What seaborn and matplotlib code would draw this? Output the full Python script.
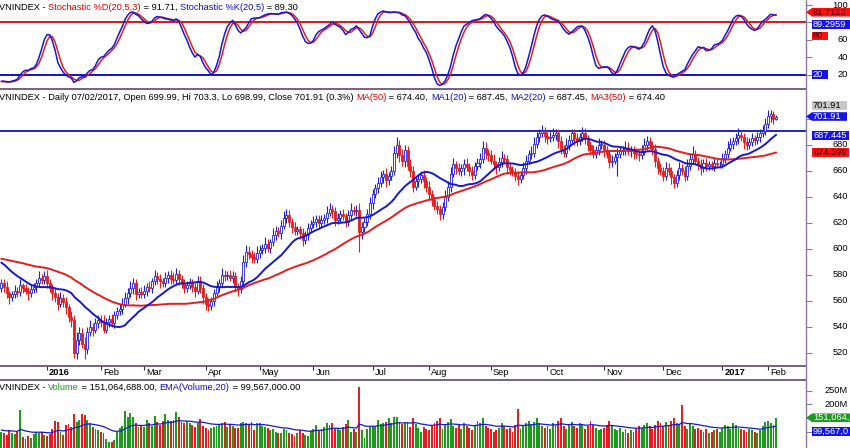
import numpy as np
import pandas as pd
import matplotlib
matplotlib.use("Agg")
import matplotlib.pyplot as plt
from matplotlib.patches import Polygon
from matplotlib.lines import Line2D
from matplotlib.transforms import blended_transform_factory
import seaborn as sns

sns.set_theme(style="white")
plt.rcParams['font.family'] = ['Liberation Sans', 'DejaVu Sans']

# ---------------- data ----------------
holidays = ['2016-01-01', '2016-02-08', '2016-02-09', '2016-02-10', '2016-02-11',
            '2016-02-12', '2016-04-18', '2016-05-02', '2016-05-03', '2016-09-02',
            '2017-01-02', '2017-01-26', '2017-01-27', '2017-01-30', '2017-01-31',
            '2017-02-01']
month_labels = ['2016', 'Feb', 'Mar', 'Apr', 'May', 'Jun', 'Jul', 'Aug', 'Sep',
                'Oct', 'Nov', 'Dec', '2017', 'Feb']

# bars before the visible window (they only feed the MA / stochastic / EMA)
warm_close = [582, 584, 586, 585, 588, 590, 589, 592, 594, 593,
              595, 597, 596, 594, 592, 590, 593, 595, 598, 600,
              599, 597, 595, 596, 598, 600, 601, 599, 597, 596,
              598, 601, 603, 604, 602, 600, 599, 598, 597, 596,
              594, 591, 588, 586, 583, 580, 578, 575, 572, 570]
warm_up = [4, 3, 4, 4, 3, 4, 5, 3, 4, 4, 3, 4, 4, 3, 4, 4, 3, 4, 5, 4,
           4, 3, 4, 4, 3, 4, 5, 4, 3, 4, 4, 3, 4, 5, 4, 3, 4, 4, 3, 4,
           4, 4, 3, 4, 4, 5, 3, 4, 4, 3]
warm_dn = [3, 4, 4, 3, 4, 5, 3, 4, 4, 3, 4, 3, 4, 4, 5, 3, 4, 3, 4, 4,
           3, 4, 4, 5, 3, 4, 3, 4, 4, 3, 4, 3, 4, 4, 3, 4, 5, 4, 3, 4,
           4, 5, 4, 4, 5, 4, 4, 5, 4, 4]
warm_vol = [110, 95, 102, 120, 98, 105, 115, 108, 96, 100,
            112, 118, 104, 99, 107, 113, 101, 97, 109, 104]

# daily closes, Dec 2015 .. Feb 2017 (one line per month)
closes = [
    574, 571, 566, 563, 565, 568, 567, 572, 570, 568, 566, 569, 571, 574, 578, 576, 579,
    574, 570, 566, 563, 558, 562, 559, 555, 548, 545, 520, 530, 535, 527, 523, 536, 540, 538, 543, 545,
    544, 538, 544, 546, 543, 549, 552, 554, 558, 562, 566, 570, 574, 565, 567, 565,
    568, 571, 570, 575, 579, 577, 575, 574, 578, 580, 577, 576, 581, 577, 573, 570, 572, 574, 571, 568, 575, 570, 563,
    558, 556, 560, 566, 571, 574, 580, 579, 580, 578, 579, 571, 569, 575, 590, 598, 596, 594, 592, 597,
    599, 601, 604, 601, 605, 611, 614, 612, 618, 624, 626, 621, 617, 614, 615, 612, 607, 611, 616, 619,
    621, 623, 620, 622, 624, 628, 631, 629, 622, 624, 627, 625, 621, 626, 630, 629, 630, 613, 617, 621, 627, 635,
    642, 647, 651, 655, 658, 653, 656, 660, 674, 680, 672, 668, 676, 664, 660, 648, 652, 654, 657, 652, 648,
    642, 638, 633, 631, 627, 632, 640, 648, 658, 665, 662, 660, 662, 665, 663, 660, 657, 664, 666, 669, 678, 674, 672,
    668, 665, 663, 667, 670, 669, 663, 661, 659, 656, 654, 657, 662, 668, 673, 674, 681, 686, 689, 691, 687,
    685, 686, 688, 689, 683, 677, 674, 680, 684, 689, 685, 683, 686, 689, 685, 680, 676, 673, 676, 680, 680,
    676, 673, 667, 668, 671, 673, 675, 676, 678, 675, 676, 674, 673, 672, 675, 680, 683, 680, 677, 668, 662, 660,
    656, 662, 660, 655, 651, 657, 662, 660, 656, 664, 669, 673, 668, 665, 662, 666, 664, 665, 664, 666, 665, 665,
    670, 673, 678, 681, 683, 685, 688, 686, 682, 680, 682, 685, 684, 686, 689, 691, 696,
    702, 704, 700, 701.91,
]
# upper / lower shadow length above / below the candle body
wick_up = [
    3, 3, 4, 2, 3, 4, 3, 5, 2, 3, 3, 4, 3, 3, 5, 3, 4,
    5, 3, 3, 4, 3, 5, 3, 4, 3, 4, 4, 6, 5, 4, 5, 4, 5, 3, 4, 4,
    4, 5, 3, 3, 4, 3, 3, 4, 4, 5, 4, 5, 4, 3, 3, 4,
    4, 3, 4, 3, 5, 3, 4, 3, 4, 3, 4, 5, 4, 3, 3, 4, 3, 4, 3, 3, 4, 4, 3,
    3, 4, 3, 3, 4, 3, 5, 4, 3, 4, 4, 3, 3, 4, 5, 5, 4, 3, 4, 5,
    4, 3, 5, 4, 3, 5, 4, 3, 4, 5, 5, 4, 3, 4, 3, 3, 4, 3, 4, 3,
    4, 3, 3, 4, 3, 5, 4, 3, 3, 4, 3, 4, 3, 4, 5, 3, 4, 5, 4, 3, 4, 5,
    4, 3, 4, 5, 3, 4, 3, 4, 5, 6, 4, 5, 4, 3, 5, 4, 3, 4, 3, 4, 3,
    4, 3, 3, 4, 3, 4, 5, 4, 5, 5, 3, 4, 3, 4, 5, 3, 4, 3, 4, 5, 5, 4, 3,
    4, 5, 3, 4, 5, 3, 3, 4, 3, 3, 4, 3, 5, 4, 3, 5, 5, 4, 3, 4, 3,
    3, 4, 5, 3, 3, 4, 3, 5, 4, 3, 3, 4, 3, 5, 4, 3, 3, 4, 3, 5, 4,
    4, 3, 3, 4, 3, 5, 4, 3, 5, 4, 3, 3, 4, 3, 5, 5, 4, 3, 3, 4, 3, 4,
    3, 5, 4, 3, 3, 4, 5, 3, 4, 5, 4, 6, 3, 3, 4, 3, 4, 3, 3, 4, 3, 3,
    4, 3, 5, 4, 3, 4, 5, 3, 3, 4, 3, 4, 3, 4, 3, 4, 5,
    5, 3, 2, 1.39,
]
wick_dn = [
    3, 4, 4, 5, 3, 3, 4, 3, 4, 3, 5, 3, 3, 4, 3, 3, 3,
    4, 3, 5, 4, 5, 3, 4, 5, 4, 5, 4, 5, 4, 3, 8, 4, 3, 5, 3, 4,
    4, 3, 3, 4, 3, 4, 3, 3, 4, 3, 4, 3, 5, 4, 3, 3,
    3, 4, 3, 4, 3, 4, 5, 3, 3, 4, 4, 3, 4, 5, 3, 4, 3, 3, 4, 5, 3, 4, 5,
    5, 4, 3, 4, 3, 4, 3, 4, 3, 3, 4, 4, 5, 3, 3, 4, 4, 5, 3, 3,
    4, 3, 4, 3, 4, 3, 4, 3, 4, 3, 4, 4, 5, 3, 3, 4, 5, 3, 4, 3,
    3, 4, 4, 3, 3, 4, 3, 5, 4, 3, 4, 3, 4, 3, 4, 3, 4, 15, 5, 4, 3, 4,
    4, 3, 4, 3, 4, 5, 4, 3, 3, 4, 5, 4, 5, 3, 5, 4, 3, 4, 3, 5, 4,
    4, 5, 3, 4, 5, 4, 3, 3, 4, 3, 4, 3, 4, 5, 3, 4, 4, 3, 3, 4, 3, 5, 4,
    3, 4, 5, 3, 4, 3, 5, 4, 3, 4, 5, 3, 3, 4, 3, 4, 3, 3, 4, 3, 5,
    4, 3, 3, 4, 5, 4, 3, 3, 4, 3, 5, 4, 3, 3, 4, 5, 4, 3, 3, 4, 3,
    5, 3, 5, 4, 3, 15, 3, 3, 4, 3, 4, 5, 3, 4, 3, 3, 4, 3, 5, 5, 4, 3,
    4, 3, 3, 5, 4, 3, 4, 3, 4, 3, 3, 4, 3, 4, 5, 3, 4, 3, 3, 4, 3, 3,
    3, 4, 3, 3, 4, 3, 4, 3, 5, 4, 3, 3, 4, 3, 4, 3, 3,
    3, 4, 4, 1.01,
]
# daily volume, millions of shares
volumes = [
    100, 94, 88, 106, 95, 90, 98, 179, 80, 72, 85, 78, 90, 100, 95, 100, 88,
    84, 92, 110, 140, 137, 100, 88, 125, 128, 118, 166, 136, 143, 165, 160, 143, 130, 118, 110, 106,
    100, 94, 72, 63, 62, 69, 100, 112, 120, 175, 155, 167, 152, 130, 118, 122,
    118, 143, 130, 120, 157, 135, 125, 140, 165, 143, 138, 143, 172, 155, 137, 130, 140, 132, 125, 118, 130, 145, 122,
    115, 106, 112, 118, 120, 125, 133, 137, 118, 125, 122, 115, 112, 133, 137, 130, 128, 137, 106, 133,
    130, 120, 118, 112, 106, 108, 100, 96, 94, 110, 106, 96, 90, 84, 94, 106, 94, 88, 84, 104,
    108, 125, 106, 110, 118, 130, 125, 133, 115, 110, 106, 118, 128, 143, 100, 108, 100, 264, 106, 78, 110, 118,
    122, 118, 143, 128, 130, 137, 150, 130, 155, 152, 137, 128, 133, 137, 118, 150, 128, 115, 100, 118, 110,
    105, 120, 130, 140, 150, 110, 125, 135, 145, 120, 115, 125, 110, 130, 120, 115, 105, 125, 140, 130, 150, 120, 115,
    110, 100, 105, 115, 130, 120, 110, 115, 100, 125, 185, 110, 120, 130, 140, 125, 135, 150, 130, 120, 115,
    120, 110, 130, 125, 140, 150, 120, 110, 125, 135, 120, 115, 130, 125, 110, 120, 140, 125, 115, 105, 110,
    115, 125, 140, 120, 110, 105, 115, 100, 110, 95, 105, 100, 110, 120, 115, 125, 130, 120, 110, 125, 140, 130,
    120, 135, 125, 140, 150, 130, 125, 198, 120, 110, 130, 120, 110, 115, 105, 100, 110, 95, 100, 105, 110, 100,
    115, 125, 120, 110, 130, 125, 115, 110, 105, 100, 110, 105, 100, 95, 105, 120, 135,
    140, 130, 125, 151.064688,
]
level_line = 690.8    # horizontal line drawn on the price pane

# ---------------- indicators ----------------
dates = pd.bdate_range('2015-12-09', '2017-02-07')
dates = dates[~dates.isin(pd.to_datetime(holidays))]
n = len(closes)
nw = len(warm_close)

c_all = pd.Series(warm_close + closes, dtype=float)
o_all = c_all.shift(1).fillna(c_all.iloc[0])
h_all = np.maximum(o_all, c_all) + np.array(warm_up + wick_up)
l_all = np.minimum(o_all, c_all) - np.array(warm_dn + wick_dn)

ma50 = c_all.rolling(50).mean().iloc[nw:].to_numpy()
ma20 = c_all.rolling(20).mean().iloc[nw:].to_numpy()
hh = h_all.rolling(20).max()
ll = l_all.rolling(20).min()
stoch_k = 100 * (c_all - ll).rolling(5).mean() / (hh - ll).rolling(5).mean()
stoch_d = stoch_k.rolling(3).mean()
stoch_k = stoch_k.iloc[nw:].to_numpy()
stoch_d = stoch_d.iloc[nw:].to_numpy()

vol_all = pd.Series(warm_vol + volumes, dtype=float) * 1e6
vol_ema = vol_all.ewm(span=20, adjust=False).mean().iloc[len(warm_vol):].to_numpy()
vol = vol_all.iloc[len(warm_vol):].to_numpy()

o = o_all.iloc[nw:].to_numpy()
c = c_all.iloc[nw:].to_numpy()
hi = h_all.iloc[nw:].to_numpy()
lo = l_all.iloc[nw:].to_numpy()
idx = np.arange(n)
up = c >= o

month_start = [i for i in range(1, n) if dates[i].month != dates[i - 1].month]

# ---------------- layout ----------------
W, H = 850, 448
RX = 806
RED = '#e41e1e'
BLUE = '#1818d0'
GREEN = '#1f9a1f'
FRAME = '#4b3a5c'
AXIS = '#8a7aa0'
FS = 6.7

fig = plt.figure(figsize=(W / 100, H / 100), dpi=100)
fig.patch.set_facecolor('white')


def px_axes(x0, y0, x1, y1):
    return fig.add_axes([x0 / W, 1 - y1 / H, (x1 - x0) / W, (y1 - y0) / H])


ax_st = px_axes(0, 0, RX, 89)
ax_pr = px_axes(0, 90, RX, 366)
ax_vo = px_axes(0, 380, RX, 448)

for ax in (ax_st, ax_pr, ax_vo):
    ax.set_xlim(-0.48, 299.1)
    ax.set_facecolor('white')
    for s in ax.spines.values():
        s.set_visible(False)
    ax.tick_params(axis='y', left=False, right=True, labelleft=False, labelright=False,
                   length=4, width=0.8, color=AXIS, direction='out')
    ax.tick_params(axis='x', bottom=False, labelbottom=False)
    ax.grid(False)

# ---- stochastic pane ----
ax_st.set_ylim(3.5, 105.8)
ax_st.axhline(80, color='#e00000', lw=1.3)
ax_st.axhline(20, color='#0000c0', lw=1.3)
sns.lineplot(x=idx, y=stoch_d, ax=ax_st, color=RED, lw=1.1)
sns.lineplot(x=idx, y=stoch_k, ax=ax_st, color=BLUE, lw=1.1)
ax_st.set_yticks([20, 40, 60, 80, 100])

# ---- price pane ----
ax_pr.set_ylim(510, 722.3)
ax_pr.axhline(level_line, color='#1010c0', lw=1.3)
body_h = np.where(np.abs(c - o) < 0.4, 0.4, np.abs(c - o))
ax_pr.vlines(idx, lo, hi, colors=np.where(up, '#2020e0', RED), lw=0.8, zorder=2)
ax_pr.bar(idx, body_h, bottom=np.minimum(o, c), width=0.75,
          color=np.where(up, 'white', RED), edgecolor=np.where(up, '#2020e0', RED),
          linewidth=0.6, zorder=3)
sns.lineplot(x=idx, y=ma50, ax=ax_pr, color=RED, lw=1.4, zorder=4)
sns.lineplot(x=idx, y=ma20, ax=ax_pr, color=BLUE, lw=1.4, zorder=4)
ax_pr.set_yticks(range(520, 701, 20))
ax_pr.set_xticks(month_start)
ax_pr.tick_params(axis='x', bottom=True, length=3, width=0.8, color='#333333', direction='out')
for i, lab in zip(month_start, month_labels):
    ax_pr.annotate(lab, xy=(i, 0), xycoords=('data', 'axes fraction'), xytext=(2, -6.5),
                   textcoords='offset pixels', ha='left', va='center', fontsize=FS,
                   fontweight='bold' if lab.isdigit() else 'normal', color='black',
                   annotation_clip=False)

# ---- volume pane ----
ax_vo.set_ylim(39.7e6, 290e6)
prev_c = np.concatenate([[warm_close[-1]], c[:-1]])
ax_vo.bar(idx, vol, width=0.7, color=np.where(c >= prev_c, GREEN, RED), linewidth=0)
sns.lineplot(x=idx, y=vol_ema, ax=ax_vo, color=BLUE, lw=0.9)
ax_vo.set_yticks([100e6, 150e6, 200e6, 250e6])

for ax in (ax_st, ax_pr, ax_vo):
    ax.set_xlabel('')
    ax.set_ylabel('')

# right-hand tick labels (the ones hidden behind value tags are left out)
for ax, vals, fmt in ((ax_st, [20, 40, 60, 100], '{:.0f}'),
                      (ax_pr, list(range(520, 681, 20)), '{:.0f}'),
                      (ax_vo, [200e6, 250e6], None)):
    tr = blended_transform_factory(fig.transFigure, ax.transData)
    for v in vals:
        s = fmt.format(v) if fmt else f'{v / 1e6:.0f}M'
        ax.text(848 / W, v, s, transform=tr, ha='right', va='center', fontsize=FS,
                color='black', clip_on=False)

# frame lines
for y in (89, 366, 379.5):
    fig.add_artist(Line2D([0, RX / W], [1 - y / H] * 2, color=FRAME, lw=1.1))
fig.add_artist(Line2D([RX / W] * 2, [0, 1], color=AXIS, lw=1.0))


# ---------------- texts ----------------
def rainbow(ax, x, y, pieces):
    prev = None
    for s, col in pieces:
        if prev is None:
            t = ax.annotate(s, xy=(x, H - y), xycoords='figure pixels', color=col,
                            fontsize=FS, ha='left', va='center', annotation_clip=False,
                            zorder=10)
        else:
            t = ax.annotate(s, xy=(1, 0.5), xycoords=prev, color=col, fontsize=FS,
                            ha='left', va='center', annotation_clip=False, zorder=10)
        prev = t


rainbow(ax_st, -1, 7, [('VNINDEX - ', 'black'), ('Stochastic %D(20,5,3)', '#e00000'),
                       (' = 91.71, ', 'black'), ('Stochastic %K(20,5)', '#1010c8'),
                       (' = 89.30', 'black')])
rainbow(ax_pr, -1, 97.5, [('VNINDEX - Daily 07/02/2017, Open 699.99, Hi 703.3, Lo 698.99, '
                           'Close 701.91 (0.3%) ', 'black'),
                          ('MA(50)', '#e00000'), (' = 674.40, ', 'black'),
                          ('MA1(20)', '#1010c8'), (' = 687.45, ', 'black'),
                          ('MA2(20)', '#1010c8'), (' = 687.45, ', 'black'),
                          ('MA3(50)', '#e00000'), (' = 674.40', 'black')])
rainbow(ax_vo, -1, 387, [('VNINDEX - ', 'black'), ('Volume', '#1f9a1f'),
                         (' = 151,064,688.00, ', 'black'), ('EMA(Volume,20)', '#1010c8'),
                         (' = 99,567,000.00', 'black')])


def tag(ax, value, text, face, tcolor, shift=0.0, x1=850, arrow=False, h=8.6):
    yc = H - ax.transData.transform((0, value))[1] + shift
    y0, y1 = yc - h / 2, yc + h / 2
    x0 = 812
    if arrow:
        pts = [(RX, yc), (x0, y0), (x1, y0), (x1, y1), (x0, y1)]
    else:
        pts = [(x0, y0), (x1, y0), (x1, y1), (x0, y1)]
    fig.add_artist(Polygon([(px / W, 1 - py / H) for px, py in pts], closed=True,
                           transform=fig.transFigure, facecolor=face, edgecolor='none',
                           zorder=20))
    fig.text((x0 + 1.0) / W, 1 - yc / H, text, color=tcolor, fontsize=FS,
             ha='left', va='center', zorder=21)


fig.canvas.draw()
tag(ax_st, 91.7122, '91.7122', '#ff1010', '#3a0000', arrow=True)
tag(ax_st, 89.2959, '89.2959', '#1414e6', 'white', shift=10)
tag(ax_st, 80, '80', '#ff1010', '#3a0000', shift=13.5, x1=828)
tag(ax_st, 20, '20', '#1414e6', 'white', x1=828)
tag(ax_pr, 701.91, '701.91', '#c8c8c8', 'black', shift=-11, x1=847)
tag(ax_pr, 701.91, '701.91', '#1414e6', 'white', arrow=True, x1=847)
tag(ax_pr, 687.445, '687.445', '#1414e6', 'white', x1=849)
tag(ax_pr, 674.399, '674.399', '#ff1010', '#3a0000', x1=849)
# the right edge of the picture cuts these two tags
tag(ax_vo, 151.064688e6, '151,064,', GREEN, 'white', arrow=True)
tag(ax_vo, 99.567e6, '99,567,0', '#1414e6', 'white')

fig.savefig('out.png', dpi=100)
